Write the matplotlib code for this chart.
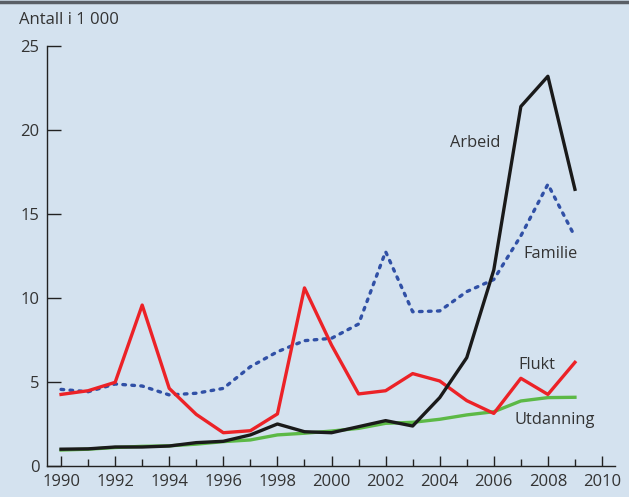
import numpy as np
import matplotlib
matplotlib.use('Agg')
from matplotlib import pyplot as plt
from matplotlib.lines import Line2D

plt.rcParams['font.family'] = ['Open Sans', 'DejaVu Sans']

years = list(range(1990, 2010))
arbeid = [1.0, 1.02, 1.13, 1.13, 1.19, 1.39, 1.47, 1.85, 2.5, 2.04,
          1.98, 2.34, 2.7, 2.38, 4.07, 6.45, 11.67, 21.4, 23.2, 16.47]
familie = [4.56, 4.42, 4.88, 4.76, 4.23, 4.33, 4.62, 5.91, 6.8, 7.46,
           7.6, 8.45, 12.76, 9.18, 9.23, 10.38, 11.1, 13.7, 16.77, 13.65]
flukt = [4.26, 4.48, 4.98, 9.58, 4.62, 3.07, 1.98, 2.1, 3.1, 10.6,
         7.2, 4.29, 4.48, 5.5, 5.06, 3.89, 3.13, 5.22, 4.26, 6.17]
utdanning = [0.95, 1.0, 1.1, 1.17, 1.2, 1.3, 1.45, 1.55, 1.85, 1.95,
             2.08, 2.24, 2.54, 2.6, 2.78, 3.04, 3.23, 3.87, 4.07, 4.09]

bg = '#d4e2ef'
txt = '#333333'

fig = plt.figure(figsize=(6.29, 4.97), dpi=100, facecolor=bg)
ax = fig.add_axes([0.0747, 0.0624, 0.903, 0.845], facecolor=bg)

ax.plot(years, utdanning, color='#5cb946', lw=2.4)
ax.plot(years, familie, color='#3050a6', lw=2.4, ls=(0, (0.8, 1.9)),
        dash_capstyle='round')
ax.plot(years, flukt, color='#ec2227', lw=2.4)
ax.plot(years, arbeid, color='#1a1a1a', lw=2.4)

ax.set_xlim(1989.48, 2010.48)
ax.set_ylim(0, 25)
ax.set_xticks(range(1990, 2011, 2))
ax.set_xticks(range(1991, 2010, 2), minor=True)
ax.set_yticks([0, 5, 10, 15, 20, 25])

for s in ['top', 'right']:
    ax.spines[s].set_visible(False)
for s in ['left', 'bottom']:
    ax.spines[s].set_color('#222222')
    ax.spines[s].set_linewidth(1.0)

ax.tick_params(axis='y', direction='in', length=10, width=1, pad=5.5,
               labelsize=12, labelcolor=txt, color='#222222')
ax.tick_params(axis='x', which='major', direction='in', length=7, width=1,
               pad=6, labelsize=12, labelcolor=txt, color='#222222')
ax.tick_params(axis='x', which='minor', direction='in', length=5, width=1,
               color='#222222')

ax.text(2004.38, 19.25, 'Arbeid', fontsize=11.8, color=txt, va='center')
ax.text(2007.08, 12.6, 'Familie', fontsize=11.8, color=txt, va='center')
ax.text(2006.9, 6.0, 'Flukt', fontsize=11.8, color=txt, va='center')
ax.text(2006.78, 2.74, 'Utdanning', fontsize=11.8, color=txt, va='center')

fig.text(19 / 629, 1 - 20 / 497, 'Antall i 1 000', fontsize=12, color=txt,
         va='center', ha='left')
fig.add_artist(Line2D([0, 1], [1 - 1.5 / 497, 1 - 1.5 / 497],
                      transform=fig.transFigure, color='#5a5f66', lw=2.5))

fig.savefig('out.png', dpi=100, facecolor=bg)
